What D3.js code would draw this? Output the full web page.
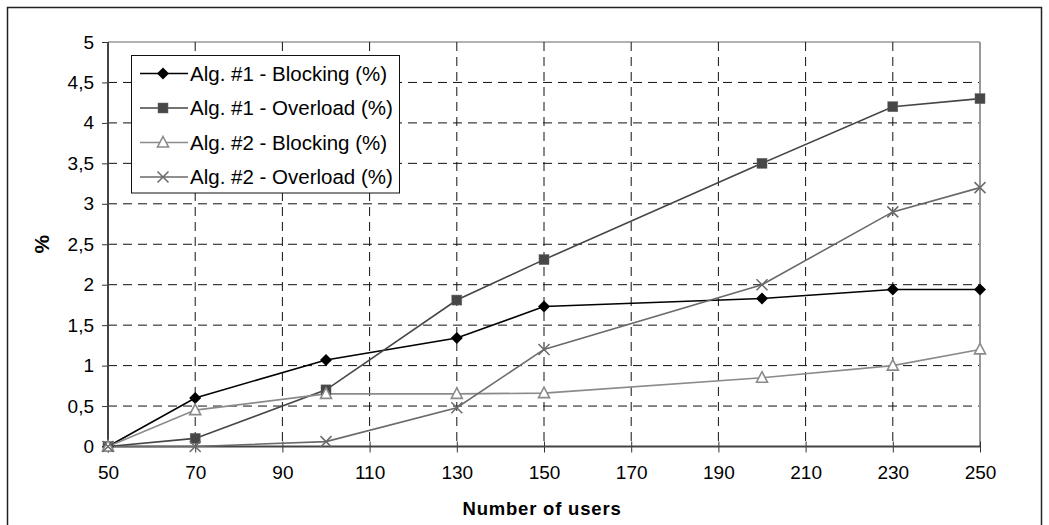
<!DOCTYPE html>
<html>
<head>
<meta charset="utf-8">
<script src="https://cdn.jsdelivr.net/npm/d3@7"></script>
<style>
  html, body { margin: 0; padding: 0; background: #fff; }
  svg { display: block; font-family: "Liberation Sans", Arial, sans-serif; }
</style>
</head>
<body>
<svg id="chart" width="1049" height="525"></svg>
<script>
// Number of users on the x axis
const users = [50, 70, 100, 130, 150, 200, 230, 250];

// Percentages per algorithm and metric
const alg1Blocking = [0, 0.6, 1.07, 1.34, 1.73, 1.83, 1.94, 1.94];
const alg1Overload = [0, 0.1, 0.7, 1.81, 2.31, 3.5, 4.2, 4.3];
const alg2Blocking = [0, 0.45, 0.65, 0.65, 0.66, 0.85, 1.0, 1.2];
const alg2Overload = [0, 0, 0.06, 0.48, 1.2, 2.0, 2.9, 3.2];

const seriesNames = [
  "Alg. #1 - Blocking (%)",
  "Alg. #1 - Overload (%)",
  "Alg. #2 - Blocking (%)",
  "Alg. #2 - Overload (%)"
];

const xTicks = [50, 70, 90, 110, 130, 150, 170, 190, 210, 230, 250];
const yTicks = [0, 0.5, 1, 1.5, 2, 2.5, 3, 3.5, 4, 4.5, 5];

const series = [
  { name: seriesNames[0], values: alg1Blocking, color: "#000", marker: "diamond" },
  { name: seriesNames[1], values: alg1Overload, color: "#454545", marker: "square" },
  { name: seriesNames[2], values: alg2Blocking, color: "#8a8a8a", marker: "triangle" },
  { name: seriesNames[3], values: alg2Overload, color: "#6a6a6a", marker: "cross" }
];

const svg = d3.select("#chart");
const plot = { left: 108, right: 980, top: 42, bottom: 446.5 };

const x = d3.scaleLinear().domain([50, 250]).range([plot.left, plot.right]);
const y = d3.scaleLinear().domain([0, 5]).range([plot.bottom, plot.top]);

// Outer frame
svg.append("rect")
  .attr("x", 7.5).attr("y", 7.5)
  .attr("width", 1034).attr("height", 540)
  .attr("fill", "none").attr("stroke", "#222").attr("stroke-width", 1.5);

// Plot border on top and right
svg.append("line")
  .attr("x1", plot.left).attr("x2", plot.right)
  .attr("y1", plot.top).attr("y2", plot.top)
  .attr("stroke", "#999").attr("stroke-width", 1.5);
svg.append("line")
  .attr("x1", plot.right).attr("x2", plot.right)
  .attr("y1", plot.top).attr("y2", plot.bottom)
  .attr("stroke", "#999").attr("stroke-width", 2);

// Dashed grid
const grid = svg.append("g");
grid.selectAll("line.h")
  .data(yTicks.filter(d => d > 0 && d < 5))
  .join("line")
  .attr("class", "h")
  .attr("x1", plot.left).attr("x2", plot.right - 1)
  .attr("y1", d => y(d)).attr("y2", d => y(d))
  .attr("stroke", "#111").attr("stroke-width", 1)
  .attr("stroke-dasharray", "9,6");
grid.selectAll("line.v")
  .data(xTicks.filter(d => d > 50 && d < 250))
  .join("line")
  .attr("class", "v")
  .attr("x1", d => x(d)).attr("x2", d => x(d))
  .attr("y1", plot.top).attr("y2", plot.bottom)
  .attr("stroke", "#111").attr("stroke-width", 1)
  .attr("stroke-dasharray", "9,6");

// Axes
const yAxis = d3.axisLeft(y)
  .tickValues(yTicks)
  .tickSize(6)
  .tickPadding(8)
  .tickFormat(d => String(d).replace(".", ","));
const gy = svg.append("g").attr("transform", `translate(${plot.left},0)`).call(yAxis);
gy.select(".domain").remove();
gy.selectAll(".tick line").attr("stroke", "#333");
gy.selectAll(".tick text")
  .attr("font-size", 19).attr("fill", "#000")
  .attr("font-family", "Liberation Sans, Arial, sans-serif");

const xAxis = d3.axisBottom(x)
  .tickValues(xTicks)
  .tickSize(6)
  .tickPadding(13)
  .tickFormat(d3.format("d"));
const gx = svg.append("g").attr("transform", `translate(0,${plot.bottom})`).call(xAxis);
gx.select(".domain").remove();
gx.selectAll(".tick line").attr("stroke", "#333").attr("y1", -5);
gx.selectAll(".tick text")
  .attr("font-size", 19).attr("fill", "#000")
  .attr("font-family", "Liberation Sans, Arial, sans-serif");

// Axis lines
svg.append("line")
  .attr("x1", plot.left).attr("x2", plot.left)
  .attr("y1", plot.top).attr("y2", plot.bottom + 1)
  .attr("stroke", "#444").attr("stroke-width", 2);
svg.append("line")
  .attr("x1", plot.left - 1).attr("x2", plot.right)
  .attr("y1", plot.bottom).attr("y2", plot.bottom)
  .attr("stroke", "#444").attr("stroke-width", 2);

// Axis titles
svg.append("text")
  .attr("x", (plot.left + plot.right) / 2 - 2).attr("y", 515)
  .attr("text-anchor", "middle")
  .attr("font-size", 18.5).attr("font-weight", "bold")
  .attr("letter-spacing", 0.8)
  .text("Number of users");
svg.append("text")
  .attr("transform", `translate(49,${(plot.top + plot.bottom) / 2}) rotate(-90)`)
  .attr("text-anchor", "middle")
  .attr("font-size", 21).attr("font-weight", "bold")
  .text("%");

// Marker drawing
function drawMarker(g, type, color) {
  if (type === "diamond") {
    g.append("path").attr("d", "M0,-6L6,0L0,6L-6,0Z").attr("fill", "#000");
  } else if (type === "square") {
    g.append("rect").attr("x", -5).attr("y", -5).attr("width", 10).attr("height", 10)
      .attr("fill", "#474747").attr("stroke", "#666").attr("stroke-width", 0.5);
  } else if (type === "triangle") {
    g.append("path").attr("d", "M0,-6L5.5,4.5L-5.5,4.5Z")
      .attr("fill", "#fff").attr("stroke", color).attr("stroke-width", 1.6);
  } else if (type === "cross") {
    g.append("path").attr("d", "M-5.5,-5.5L5.5,5.5M-5.5,5.5L5.5,-5.5")
      .attr("fill", "none").attr("stroke", color).attr("stroke-width", 1.5);
  }
}

// Series lines and markers
const line = d3.line().x(d => x(d[0])).y(d => y(d[1]));
const plotLayer = svg.append("g");
series.forEach(s => {
  const pts = users.map((u, i) => [u, s.values[i]]);
  plotLayer.append("path")
    .datum(pts)
    .attr("d", line)
    .attr("fill", "none")
    .attr("stroke", s.color)
    .attr("stroke-width", 1.6);
});
series.forEach(s => {
  users.forEach((u, i) => {
    const g = plotLayer.append("g").attr("transform", `translate(${x(u)},${y(s.values[i])})`);
    drawMarker(g, s.marker, s.color);
  });
});

// Legend
const legend = svg.append("g");
legend.append("rect")
  .attr("x", 131.5).attr("y", 55.5)
  .attr("width", 268).attr("height", 137.5)
  .attr("fill", "#fff").attr("stroke", "#111").attr("stroke-width", 1);
const rowY = [73.5, 108, 142.5, 177];
series.forEach((s, i) => {
  const g = legend.append("g").attr("transform", `translate(0,${rowY[i]})`);
  g.append("line").attr("x1", 140).attr("x2", 188).attr("y1", 0).attr("y2", 0)
    .attr("stroke", s.color).attr("stroke-width", 1.6);
  const m = g.append("g").attr("transform", "translate(163,0)");
  drawMarker(m, s.marker, s.color);
  g.append("text")
    .attr("x", 190).attr("y", 0).attr("dy", "0.36em")
    .attr("font-size", 20.5).attr("fill", "#000")
    .text(s.name);
});
</script>
</body>
</html>
